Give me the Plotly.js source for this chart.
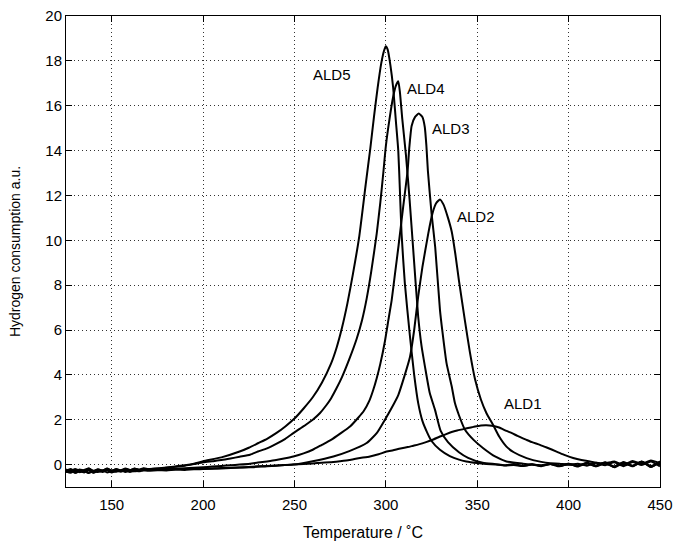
<!DOCTYPE html>
<html>
<head>
<meta charset="utf-8">
<script src="https://cdn.plot.ly/plotly-3.0.1.min.js"></script>
<style>html,body{margin:0;padding:0;background:#fff;}#chart{width:674px;height:541px;}</style>
</head>
<body>
<div id="chart"></div>
<script>
// ---- Data (Temperature in °C, hydrogen consumption a.u.) ----
const ald5_x = [125,127.5,130,132.5,135,137.5,140,142.5,145,147.5,150,152.5,155,157.5,160,162.5,165,167.5,170,175,180,185,190,195,200,210,220,225,230,235,240,245,250,255,260,265,270,273,276,279,282,285.5,289,291.5,293.5,295.5,297.5,299,300,301,302.5,304,305.5,306.8,307.7,308.6,310.4,313.2,315.5,317.7,320,322.5,325,329.6,335,340,344,350,355,360,365,370,375,380,385,390,395,400,405,410,415,420,425,430,435,440,445,450];
const ald5_y = [-0.22,-0.3,-0.2,-0.28,-0.24,-0.18,-0.29,-0.22,-0.27,-0.19,-0.26,-0.21,-0.28,-0.2,-0.25,-0.18,-0.24,-0.19,-0.2,-0.17,-0.13,-0.08,-0.03,0.04,0.15,0.32,0.58,0.75,0.95,1.15,1.4,1.7,2.05,2.5,3.0,3.65,4.5,5.2,6.1,7.2,8.5,10.2,12.5,14.1,15.5,16.8,17.9,18.45,18.65,18.5,17.8,16.8,15.3,14.0,12.2,10.3,8.08,5.71,4.0,2.74,1.95,1.45,1.05,0.66,0.38,0.22,0.14,0.07,0.03,0.0,-0.04,-0.02,-0.06,0.01,-0.05,0.02,-0.08,0.04,-0.06,0.08,-0.04,0.1,-0.09,0.12,-0.05,0.14,-0.1,0.11,0.0];

const ald4_x = [125,127.5,130,132.5,135,137.5,140,142.5,145,147.5,150,152.5,155,157.5,160,162.5,165,170,175,180,185,190,195,200,205,210,215,220,225.7,230,235,240,245,249.4,253,257,260,264,267,270,273,276,280,284,287,289.5,292,295,297,298.6,300,302,304,305.5,306.8,307.7,309,311,313,315,317.7,319.5,321.4,324,326.9,330,334,340,345,353,360,365,370,375,380,385,390,395,400,405,410,415,420,425,430,435,440,445,450];
const ald4_y = [-0.33,-0.25,-0.36,-0.27,-0.31,-0.24,-0.35,-0.26,-0.3,-0.22,-0.32,-0.25,-0.29,-0.21,-0.28,-0.23,-0.24,-0.2,-0.18,-0.14,-0.1,-0.05,0.02,0.1,0.15,0.2,0.27,0.35,0.44,0.58,0.72,0.92,1.15,1.4,1.6,1.82,2.0,2.3,2.6,2.95,3.4,3.9,4.7,5.6,6.45,7.4,8.6,10.3,11.7,13.0,14.2,15.4,16.4,16.9,17.09,16.6,15.4,13.8,11.8,9.56,6.59,5.3,4.37,3.2,2.44,1.5,1.0,0.55,0.3,0.08,0.02,-0.03,0.02,-0.06,0.0,-0.07,0.03,-0.05,0.04,-0.09,0.06,-0.07,0.09,-0.12,0.07,-0.08,0.13,-0.06,0.1];

const ald3_x = [125,127.5,130,132.5,135,137.5,140,142.5,145,147.5,150,152.5,155,157.5,160,162.5,165,170,175,180,185,190,195,200,205,210,215,220,225.7,230,235,240,245,249.4,255,260,265,270,275,280.4,285,288,291,293,295,297,299.5,301.4,303.2,305,307,309.5,311.9,312.8,314.1,316,318,320,321.3,322.2,323,325,327,329.6,331,333.2,336,337.8,340,343.3,348,353.3,360,366,375,380,385,390,395,400,405,410,415,420,425,430,435,440,445,450];
const ald3_y = [-0.3,-0.37,-0.27,-0.34,-0.29,-0.38,-0.28,-0.33,-0.26,-0.35,-0.29,-0.32,-0.25,-0.33,-0.27,-0.3,-0.27,-0.24,-0.23,-0.2,-0.19,-0.16,-0.14,-0.12,-0.09,-0.06,-0.03,0.0,0.04,0.09,0.14,0.2,0.28,0.36,0.5,0.66,0.88,1.1,1.38,1.7,2.1,2.4,2.85,3.3,3.85,4.5,5.5,6.45,7.33,8.5,9.79,11.5,13.1,14.1,15.1,15.5,15.65,15.5,15.05,14.2,13.1,11.2,9.7,6.9,5.9,4.52,3.5,2.74,2.2,1.55,1.1,0.73,0.35,0.14,0.04,0.0,-0.03,0.03,-0.06,0.01,-0.04,0.06,-0.08,0.05,-0.1,0.09,-0.06,0.13,-0.11,0.15,-0.04,0.12];

const ald2_x = [125,127.5,130,132.5,135,137.5,140,142.5,145,147.5,150,152.5,155,157.5,160,162.5,165,167.5,170,175,180,185,190,195,200,210,220,230,240,249.4,260,271.3,280,289.5,295,299.5,303,306.8,310,313.2,315.5,317.7,320,323.2,325.5,327.5,329.6,331.5,334,336,338,340,343.3,346,348.8,352,355,358.8,362,366,370,377,385,390,395,400,405,410,415,420,425,430,435,440,445,450];
const ald2_y = [-0.34,-0.27,-0.37,-0.3,-0.35,-0.26,-0.36,-0.29,-0.33,-0.25,-0.35,-0.28,-0.32,-0.26,-0.33,-0.27,-0.3,-0.25,-0.28,-0.25,-0.26,-0.23,-0.24,-0.21,-0.2,-0.17,-0.13,-0.08,-0.04,0.0,0.15,0.36,0.6,0.96,1.4,2.0,2.5,3.1,3.9,4.8,6.0,7.5,8.8,10.3,11.2,11.65,11.82,11.6,11.0,10.4,9.4,8.2,6.4,5.0,3.8,2.9,2.3,1.75,1.25,0.8,0.55,0.29,0.12,0.06,0.04,-0.01,0.04,-0.05,0.08,-0.03,0.1,-0.07,0.11,-0.02,0.14,-0.08,0.08];

const ald1_x = [125,127.5,130,132.5,135,137.5,140,142.5,145,147.5,150,152.5,155,157.5,160,162.5,165,167.5,170,175,180,185,190,195,200,210,220,225.7,235,240,249.4,255,260,265,269.4,275,280,285,291.3,296,300.4,304,308,312,315,318,322,326,329.6,333,336,339,342.4,345,348,352,355,358,362,366,369,372,375,377,380,384.3,388,393.4,398,402.5,407,411.7,415,420,425,430,435,440,445,450];
const ald1_y = [-0.28,-0.2,-0.3,-0.22,-0.27,-0.17,-0.29,-0.21,-0.26,-0.18,-0.27,-0.2,-0.25,-0.17,-0.24,-0.19,-0.22,-0.16,-0.21,-0.2,-0.22,-0.19,-0.2,-0.17,-0.18,-0.15,-0.13,-0.12,-0.07,-0.05,0.0,0.02,0.05,0.08,0.1,0.15,0.2,0.28,0.36,0.46,0.58,0.64,0.72,0.78,0.84,0.9,1.0,1.12,1.25,1.36,1.45,1.52,1.58,1.63,1.68,1.74,1.75,1.73,1.65,1.5,1.4,1.28,1.17,1.1,1.0,0.88,0.76,0.58,0.42,0.29,0.2,0.14,0.08,0.05,0.14,-0.02,0.16,0.03,0.18,0.06];

const seriesNames = ["ALD1","ALD2","ALD3","ALD4","ALD5"];
const labelX = [374.8, 349.3, 335.6, 322.0, 270.5];
const labelY = [2.72, 11.05, 15.0, 16.78, 17.39];

const xTicks = [150,200,250,300,350,400,450];
const yTicks = [0,2,4,6,8,10,12,14,16,18,20];

const xs = [ald1_x, ald2_x, ald3_x, ald4_x, ald5_x];
const ys = [ald1_y, ald2_y, ald3_y, ald4_y, ald5_y];

const FONT = "'Liberation Sans', Arial, Helvetica, sans-serif";

const traces = xs.map((x, i) => ({
  x: x, y: ys[i], type: "scatter", mode: "lines", name: seriesNames[i],
  line: {color: "#000", width: 2, shape: "spline", smoothing: 0.5},
  showlegend: false, hoverinfo: "skip"
}));

const annotations = seriesNames.map((n, i) => ({
  x: labelX[i], y: labelY[i], xref: "x", yref: "y", text: n, showarrow: false,
  font: {family: FONT, size: 15, color: "#000"}
}));

const axisCommon = {
  showline: true, linecolor: "#000", linewidth: 1, mirror: "ticks",
  ticks: "inside", ticklen: 6, tickcolor: "#000", tickwidth: 1,
  showgrid: true, gridcolor: "#333", griddash: "1px,3px", gridwidth: 1,
  zeroline: false, tickfont: {family: FONT, size: 15, color: "#000"}
};

const layout = {
  width: 674, height: 541,
  margin: {l: 66, r: 14, t: 16, b: 54},
  paper_bgcolor: "#fff", plot_bgcolor: "#fff",
  font: {family: FONT, size: 15, color: "#000"},
  xaxis: Object.assign({}, axisCommon, {
    range: [125, 450], tickvals: xTicks, ticktext: xTicks.map(String),
    ticklabelstandoff: 4,
    title: {text: "Temperature / ˚C", font: {family: FONT, size: 16, color: "#000"}, standoff: 14}
  }),
  yaxis: Object.assign({}, axisCommon, {
    range: [-1, 20], tickvals: yTicks, ticktext: yTicks.map(String),
    title: {text: "Hydrogen consumption a.u.", font: {family: FONT, size: 14, color: "#000"}, standoff: 21}
  }),
  annotations: annotations
};

Plotly.newPlot("chart", traces, layout, {staticPlot: true, displayModeBar: false});
</script>
</body>
</html>
